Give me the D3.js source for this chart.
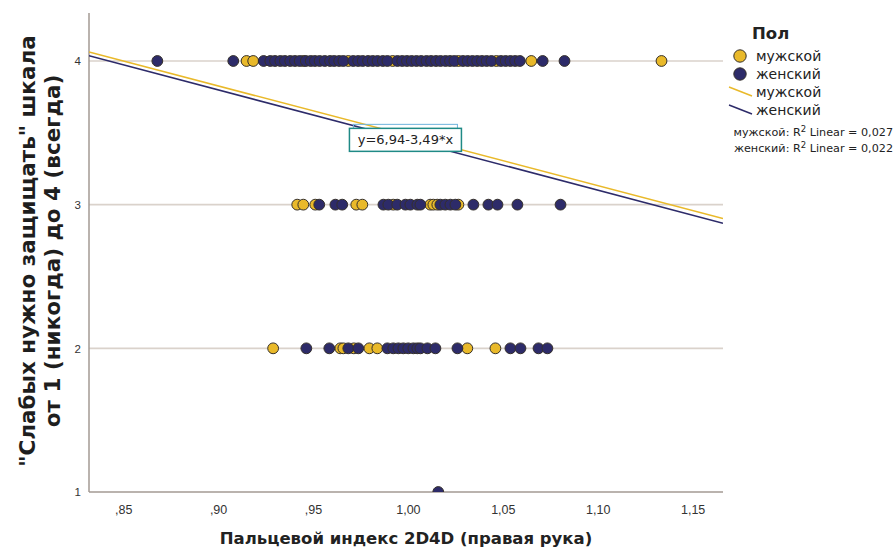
<!DOCTYPE html>
<html>
<head>
<meta charset="utf-8">
<script src="https://cdn.jsdelivr.net/npm/d3@7/dist/d3.min.js"></script>
<style>
  html, body { margin: 0; padding: 0; background: #fff; }
  svg { display: block; font-family: "DejaVu Sans", "Noto Sans", sans-serif; }
</style>
</head>
<body>
<svg id="chart" width="896" height="550"></svg>
<script>
// 2D4D index (right hand) by answer level, split by sex
const maleAt4 = [0.915, 0.9185, 0.9449, 0.9686, 0.992, 1.0266, 1.0466, 1.065, 1.1336];
const femaleAt4 = [0.868, 0.908, 0.924, 0.9275, 0.930, 0.9328, 0.9352, 0.938, 0.9405, 0.943, 0.9462, 0.9488,
  0.951, 0.9535, 0.9562, 0.959, 0.9612, 0.9638, 0.966, 0.9712, 0.9738, 0.9762, 0.979, 0.9815, 0.984,
  0.9868, 0.9892, 0.9945, 0.997, 0.9995, 1.002, 1.0045, 1.007, 1.0098, 1.0122, 1.0148, 1.0172, 1.0198,
  1.0222, 1.0245, 1.029, 1.0315, 1.034, 1.0365, 1.039, 1.0415, 1.044, 1.049, 1.0515, 1.054, 1.0565, 1.059,
  1.071, 1.0825];
const maleAt3 = [0.9417, 0.9449, 0.9512, 0.9728, 0.976, 0.9923, 1.0118, 1.0134, 1.0155, 1.0266];
const femaleAt3 = [0.9533, 0.9618, 0.9654, 0.9871, 0.9897, 0.9944, 0.9987, 1.0013, 1.005, 1.0066,
  1.0171, 1.0197, 1.0224, 1.025, 1.0345, 1.0424, 1.0472, 1.0577, 1.0804];
const maleAt2 = [0.929, 0.9644, 0.966, 0.9715, 0.9797, 0.9839, 1.0313, 1.0461];
const femaleAt2 = [0.9465, 0.9586, 0.9686, 0.9739, 0.9892, 0.9923, 0.995, 0.9976, 1.0002, 1.0029,
  1.005, 1.0066, 1.0103, 1.0145, 1.0261, 1.054, 1.0593, 1.0688, 1.0735];
const femaleAt1 = [1.016];

// Linear fits: [intercept, slope]
const maleFit = [6.95, -3.47];
const femaleFit = [6.94, -3.49];
const fitLabel = "y=6,94-3,49*x";
const r2Sex = ["мужской", "женский"];
const r2Values = ["0,027", "0,022"];

const xTicks = [0.85, 0.90, 0.95, 1.00, 1.05, 1.10, 1.15];
const xTickLabels = [",85", ",90", ",95", "1,00", "1,05", "1,10", "1,15"];
const yTicks = [1, 2, 3, 4];
const sexNames = ["мужской", "женский"];

const COL_M = "#E9B92A";
const COL_F = "#2D2B69";
const EDGE = "#35302b";

const svg = d3.select("#chart");
const plot = { left: 89, right: 723, top: 13, bottom: 492 };

const x = d3.scaleLinear().domain([0.832, 1.166]).range([plot.left, plot.right]);
const y = d3.scaleLinear().domain([1, 4.334]).range([plot.bottom, plot.top]);

svg.append("defs").append("clipPath").attr("id", "plotclip")
  .append("rect").attr("x", plot.left).attr("y", plot.top)
  .attr("width", plot.right - plot.left).attr("height", plot.bottom - plot.top);

// horizontal reference lines at each answer level
svg.append("g").selectAll("line").data(yTicks.filter(d => d > 1)).join("line")
  .attr("x1", plot.left).attr("x2", plot.right)
  .attr("y1", d => y(d)).attr("y2", d => y(d))
  .attr("stroke", "#dad2cb").attr("stroke-width", 1.6);

// axes
const xAxis = d3.axisBottom(x).tickValues(xTicks).tickSize(0).tickPadding(13)
  .tickFormat((d, i) => xTickLabels[i]);
const gx = svg.append("g").attr("transform", `translate(0,${plot.bottom})`).call(xAxis);
gx.select(".domain").attr("stroke", "#a39a93").attr("stroke-width", 1.5)
  .attr("d", `M${plot.left},0H${plot.right}`);
gx.selectAll("text").attr("font-size", 12.5).attr("fill", "#333");

const yAxis = d3.axisLeft(y).tickValues(yTicks).tickSize(0).tickPadding(8).tickFormat(d3.format("d"));
const gy = svg.append("g").attr("transform", `translate(${plot.left},0)`).call(yAxis);
gy.select(".domain").attr("stroke", "#a39a93").attr("stroke-width", 1.5)
  .attr("d", `M0,${plot.top}V${plot.bottom}`);
gy.selectAll("text").attr("font-size", 11.5).attr("fill", "#333");

// points
const pts = svg.append("g").attr("clip-path", "url(#plotclip)");
function drawPoints(vals, level, color) {
  pts.append("g").selectAll("circle").data(vals).join("circle")
    .attr("cx", d => x(d)).attr("cy", y(level)).attr("r", 5.4)
    .attr("fill", color).attr("stroke", EDGE).attr("stroke-width", 1);
}
drawPoints(maleAt4, 4, COL_M);
drawPoints(femaleAt4, 4, COL_F);
drawPoints(maleAt3, 3, COL_M);
drawPoints(femaleAt3, 3, COL_F);
drawPoints(maleAt2, 2, COL_M);
drawPoints(femaleAt2, 2, COL_F);
drawPoints(femaleAt1, 1, COL_F);

// fit lines
const fitLine = fit => d3.line()(x.domain().map(v => [x(v), y(fit[0] + fit[1] * v)]));
const lines = svg.append("g").attr("clip-path", "url(#plotclip)");
lines.append("path").attr("d", fitLine(maleFit)).attr("stroke", COL_M).attr("stroke-width", 1.6).attr("fill", "none");
lines.append("path").attr("d", fitLine(femaleFit)).attr("stroke", COL_F).attr("stroke-width", 1.6).attr("fill", "none");

// fit equation label
const lx = 0.9987;
const lcx = x(lx), lcy = y(femaleFit[0] + femaleFit[1] * lx);
const lab = svg.append("g");
lab.append("rect").attr("x", lcx - 52).attr("y", lcy - 15).attr("width", 104).attr("height", 12)
  .attr("fill", "none").attr("stroke", "#6fb3dc").attr("stroke-width", 1);
lab.append("rect").attr("x", lcx - 56).attr("y", lcy - 11).attr("width", 112).attr("height", 23)
  .attr("fill", "#fff").attr("stroke", "#1f8a86").attr("stroke-width", 1.5);
lab.append("text").attr("x", lcx).attr("y", lcy + 5).attr("text-anchor", "middle")
  .attr("font-size", 13).attr("fill", "#222").text(fitLabel);

// axis titles
svg.append("text").attr("x", (plot.left + plot.right) / 2).attr("y", 544)
  .attr("text-anchor", "middle").attr("font-size", 16.5).attr("font-weight", "bold").attr("fill", "#222")
  .text("Пальцевой индекс 2D4D (правая рука)");

const yt = svg.append("text").attr("transform", "translate(0,251) rotate(-90)")
  .attr("text-anchor", "middle").attr("font-size", 21.5).attr("font-weight", "bold").attr("fill", "#1e1e1e");
yt.append("tspan").attr("x", 0).attr("y", 35).text("\"Слабых нужно защищать\" шкала");
yt.append("tspan").attr("x", 0).attr("y", 60).text("от 1 (никогда) до 4 (всегда)");

// legend
const lg = svg.append("g");
lg.append("text").attr("x", 752).attr("y", 39).attr("font-size", 16.5).attr("font-weight", "bold")
  .attr("fill", "#222").text("Пол");
[COL_M, COL_F].forEach((c, i) => {
  lg.append("circle").attr("cx", 740).attr("cy", 56 + i * 18).attr("r", 6.2)
    .attr("fill", c).attr("stroke", EDGE).attr("stroke-width", 1);
  lg.append("text").attr("x", 756).attr("y", 61 + i * 18).attr("font-size", 14).attr("fill", "#222")
    .text(sexNames[i]);
  lg.append("line").attr("x1", 729).attr("y1", 87 + i * 18).attr("x2", 752).attr("y2", 96 + i * 18)
    .attr("stroke", c).attr("stroke-width", 1.5);
  lg.append("text").attr("x", 756).attr("y", 97 + i * 18).attr("font-size", 14).attr("fill", "#222")
    .text(sexNames[i]);
  const r2 = lg.append("text").attr("x", 893).attr("y", 136 + i * 16).attr("text-anchor", "end")
    .attr("font-size", 11.2).attr("fill", "#222");
  r2.append("tspan").text(r2Sex[i] + ": R");
  r2.append("tspan").attr("dy", -4).attr("font-size", 8.5).text("2");
  r2.append("tspan").attr("dy", 4).text(" Linear = " + r2Values[i]);
});
</script>
</body>
</html>
